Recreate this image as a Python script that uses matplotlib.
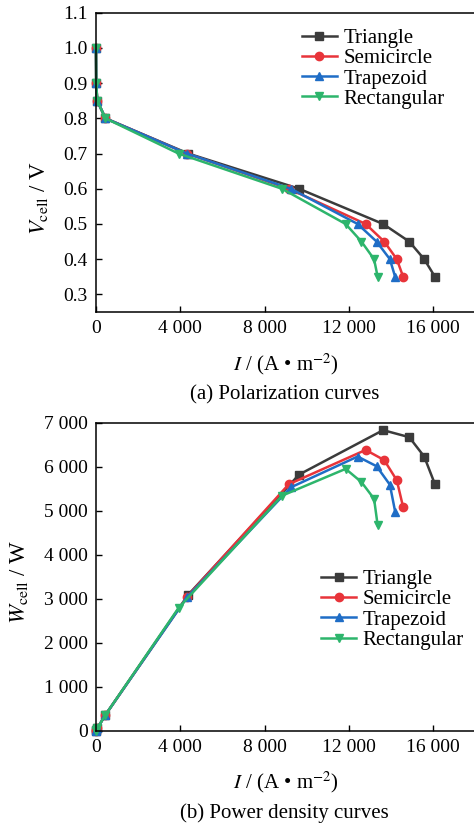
import matplotlib
matplotlib.use("Agg")
import matplotlib.pyplot as plt
from matplotlib.ticker import FuncFormatter, MultipleLocator

plt.rcParams["font.family"] = ["Liberation Serif", "DejaVu Serif"]
plt.rcParams["mathtext.fontset"] = "stix"

# ── Data ──────────────────────────────────────────────────────────────────
labels = ["Triangle", "Semicircle", "Trapezoid", "Rectangular"]
colors = ["#3b3b3b", "#e8343a", "#1f6dc6", "#2db56c"]
markers = ["s", "o", "^", "v"]

# (a) polarization: cell voltage vs current density
v_cell = [1.0, 0.9, 0.85, 0.8, 0.7, 0.6, 0.5, 0.45, 0.4, 0.35]
i_triangle = [0, 10, 60, 450, 4380, 9640, 13630, 14870, 15580, 16090]
i_semicircle = [0, 10, 60, 450, 4320, 9150, 12800, 13680, 14280, 14580]
i_trapezoid = [0, 10, 60, 450, 4320, 9250, 12420, 13320, 13950, 14200]
i_rectangular = [0, 10, 60, 450, 3920, 8830, 11850, 12600, 13200, 13370]

# (b) power density
w_triangle = [0, 9, 51, 360, 3090, 5820, 6830, 6670, 6230, 5600]
w_semicircle = [0, 9, 51, 360, 3040, 5600, 6380, 6150, 5690, 5080]
w_trapezoid = [0, 9, 51, 360, 3030, 5530, 6230, 6010, 5590, 4980]
w_rectangular = [0, 9, 51, 360, 2790, 5340, 5950, 5650, 5270, 4670]

currents = [i_triangle, i_semicircle, i_trapezoid, i_rectangular]
powers = [w_triangle, w_semicircle, w_trapezoid, w_rectangular]

x_ticks = [0, 4000, 8000, 12000, 16000]

FS = 15
TICK_FS = 14
YLAB_FS = 16.5


def thousands(v, pos=None):
    return f"{v:,.0f}".replace(",", " ")


def style_axis(ax):
    ax.tick_params(direction="in", length=4, width=1.0, labelsize=TICK_FS,
                   top=False, right=False, pad=6)
    for s in ["top", "bottom", "left", "right"]:
        ax.spines[s].set_linewidth(1.1)
    ax.set_xlim(0, 18000)
    ax.set_xticks(x_ticks)
    ax.xaxis.set_major_formatter(FuncFormatter(thousands))
    ax.set_xlabel(r"$I$ / (A • m$^{-2}$)", fontsize=FS, labelpad=10)


def add_legend(ax, x, y):
    ax.legend(loc="upper left", bbox_to_anchor=(x, y), frameon=False,
              fontsize=FS, handlelength=1.7, handletextpad=0.3,
              labelspacing=0.03, borderaxespad=0)


fig = plt.figure(figsize=(4.74, 8.26), dpi=100)

# ── (a) Polarization curves ───────────────────────────────────────────────
ax1 = fig.add_axes([0.2025, 0.6223, 0.8, 0.3623])
for cur, lbl, col, mk in zip(currents, labels, colors, markers):
    ax1.plot(cur, v_cell, color=col, marker=mk, markersize=6, linewidth=1.8,
             label=lbl, clip_on=False)
style_axis(ax1)
ax1.set_ylim(0.25, 1.1)
ax1.yaxis.set_major_locator(MultipleLocator(0.1))
ax1.yaxis.set_major_formatter(FuncFormatter(lambda v, p: f"{v:.1f}"))
ax1.set_ylabel(r"$V_{\rm cell}$ / V", fontsize=YLAB_FS)
ax1.yaxis.set_label_coords(-0.122, 0.38)
add_legend(ax1, 0.52, 0.975)

# ── (b) Power density curves ──────────────────────────────────────────────
ax2 = fig.add_axes([0.2025, 0.1154, 0.8, 0.3729])
for cur, pw, lbl, col, mk in zip(currents, powers, labels, colors, markers):
    ax2.plot(cur, pw, color=col, marker=mk, markersize=6, linewidth=1.8,
             label=lbl, clip_on=False)
style_axis(ax2)
ax2.set_ylim(0, 7000)
ax2.yaxis.set_major_locator(MultipleLocator(1000))
ax2.yaxis.set_major_formatter(FuncFormatter(thousands))
ax2.set_ylabel(r"$W_{\rm cell}$ / W", fontsize=YLAB_FS)
ax2.yaxis.set_label_coords(-0.175, 0.483)
add_legend(ax2, 0.571, 0.55)

fig.text(0.601, 1 - 395 / 826, "(a) Polarization curves", fontsize=FS,
         ha="center", va="center")
fig.text(0.601, 1 - 813 / 826, "(b) Power density curves", fontsize=FS,
         ha="center", va="center")

fig.savefig("out.png", dpi=100)
